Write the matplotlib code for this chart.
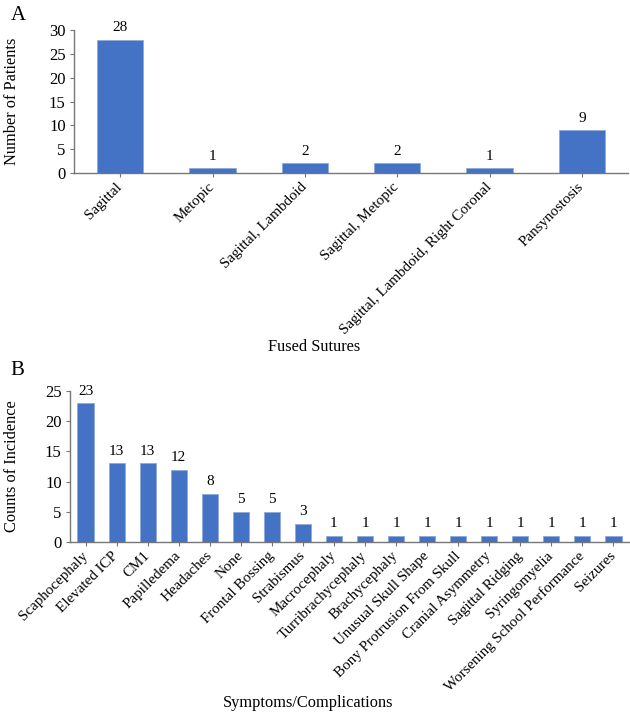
import matplotlib
matplotlib.use('Agg')
from matplotlib import pyplot as plt
import numpy as np

plt.rcParams['font.family'] = ['Liberation Serif', 'DejaVu Serif']

# Panel A data
sutures = ['Sagittal', 'Metopic', 'Sagittal, Lambdoid', 'Sagittal, Metopic',
           'Sagittal, Lambdoid, Right Coronal', 'Pansynostosis']
patients = [28, 1, 2, 2, 1, 9]

# Panel B data
symptoms = ['Scaphocephaly', 'Elevated ICP', 'CM1', 'Papilledema', 'Headaches',
            'None', 'Frontal Bossing', 'Strabismus', 'Macrocephaly',
            'Turribrachycephaly', 'Brachycephaly', 'Unusual Skull Shape',
            'Bony Protrusion From Skull', 'Cranial Asymmetry', 'Sagittal Ridging',
            'Syringomyelia', 'Worsening School Performance', 'Seizures']
incidence = [23, 13, 13, 12, 8, 5, 5, 3, 1, 1, 1, 1, 1, 1, 1, 1, 1, 1]

BAR_COLOR = '#4472C4'
AXIS_COLOR = '#767676'


def draw_panel(ax, labels, values, ymax, bar_width):
    x = np.arange(len(labels))
    bars = ax.bar(x, values, width=bar_width, color=BAR_COLOR,
                  edgecolor='#8EA9DB', linewidth=0.6)
    ax.bar_label(bars, padding=4, fontsize=11)

    ax.set_xlim(-0.5, len(labels) - 0.5)
    ax.set_ylim(0, ymax)
    ax.set_yticks(np.arange(0, ymax + 1, 5))
    ax.set_xticks(x)
    ax.set_xticklabels(labels, rotation=45, ha='right', va='center',
                       rotation_mode='anchor', fontsize=10.8)

    for side in ['top', 'right']:
        ax.spines[side].set_visible(False)
    for side in ['left', 'bottom']:
        ax.spines[side].set_color(AXIS_COLOR)
        ax.spines[side].set_linewidth(1)
    ax.tick_params(axis='x', length=3, color=AXIS_COLOR, pad=5.5)
    ax.tick_params(axis='y', length=3, color=AXIS_COLOR, labelsize=12, pad=3)


fig = plt.figure(figsize=(6.3, 7.13), dpi=100)

ax_a = fig.add_axes([74 / 630, 1 - 173 / 713, 554 / 630, 143 / 713])
draw_panel(ax_a, sutures, patients, 30, 0.5)

ax_b = fig.add_axes([70 / 630, 1 - 542 / 713, 559 / 630, 151 / 713])
draw_panel(ax_b, symptoms, incidence, 25, 0.52)

# Axis titles and panel letters
fig.text(12 / 630, 1 - 101 / 713, 'Number of Patients', rotation=90,
         ha='center', va='center', fontsize=11.8)
fig.text(314 / 630, 1 - 347 / 713, 'Fused Sutures', ha='center', va='center',
         fontsize=11.8)
fig.text(12 / 630, 1 - 466 / 713, 'Counts of Incidence', rotation=90,
         ha='center', va='center', fontsize=11.8)
fig.text(308 / 630, 1 - 703 / 713, 'Symptoms/Complications', ha='center',
         va='center', fontsize=11.8)
fig.text(18 / 630, 1 - 15 / 713, 'A', ha='center', va='center', fontsize=15)
fig.text(17 / 630, 1 - 371 / 713, 'B', ha='center', va='center', fontsize=15)

fig.savefig('out.png', dpi=100, facecolor='white')
